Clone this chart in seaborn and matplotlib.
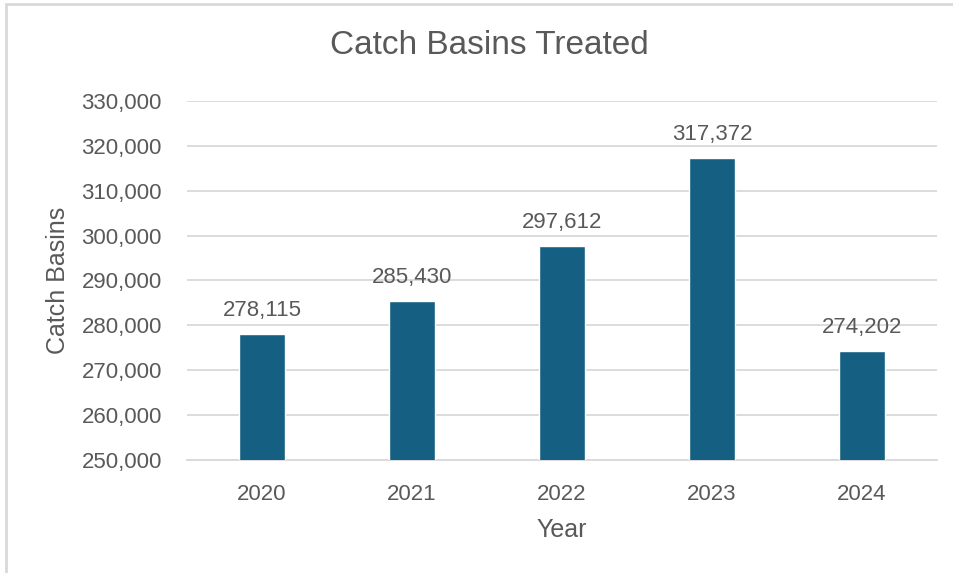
import seaborn as sns
import matplotlib.pyplot as plt
import matplotlib.patches as mpatches
import pandas as pd

# Chart data
years = ["2020", "2021", "2022", "2023", "2024"]
basins = [278115, 285430, 297612, 317372, 274202]
y_ticks = [250000, 260000, 270000, 280000, 290000, 300000, 310000, 320000, 330000]

BAR = "#156082"
TXT = "#595959"
GRID = "#d9d9d9"

sns.set_style("white")
plt.rcParams['font.family'] = ['Liberation Sans', 'DejaVu Sans']

df = pd.DataFrame({"Year": years, "Catch Basins": basins})

fig = plt.figure(figsize=(9.54, 5.73), dpi=100)
ax = fig.add_axes([0.196, 0.197, 0.786, 0.627])

sns.barplot(data=df, x="Year", y="Catch Basins", color=BAR, width=0.31,
            saturation=1, ax=ax, zorder=3)

ax.set_ylim(250000, 330000)
ax.set_yticks(y_ticks)
ax.set_yticklabels([f"{v:,}" for v in y_ticks])
ax.set_xlim(-0.5, len(years) - 0.5)
ax.yaxis.grid(True, color=GRID, linewidth=1.3, zorder=0)
ax.set_axisbelow(True)
for s in ["top", "right", "left"]:
    ax.spines[s].set_visible(False)
ax.spines["bottom"].set_color(GRID)
ax.spines["bottom"].set_linewidth(1.3)

ax.tick_params(axis="both", length=0, labelsize=16, colors=TXT)
ax.tick_params(axis="y", pad=18)
ax.tick_params(axis="x", pad=17)

# Value labels
for i, v in enumerate(basins):
    ax.text(i, v + 2900, f"{v:,}", ha="center", va="bottom", fontsize=16, color=TXT)

ax.set_xlabel("Year", fontsize=18, color=TXT)
ax.set_ylabel("Catch Basins", fontsize=18, color=TXT)
ax.xaxis.set_label_coords(0.5, -0.16)
ax.yaxis.set_label_coords(-0.156, 0.5)
fig.text(0.513, 0.92, "Catch Basins Treated", ha="center", va="center",
         fontsize=24, color=TXT)

# Chart border
fig.patches.append(mpatches.Rectangle((6 / 954, -0.05), 1.1, 1 - 3.5 / 573 + 0.05,
                                      transform=fig.transFigure, fill=False,
                                      edgecolor="#d9d9d9", linewidth=2))

fig.savefig("out.png", dpi=100)
